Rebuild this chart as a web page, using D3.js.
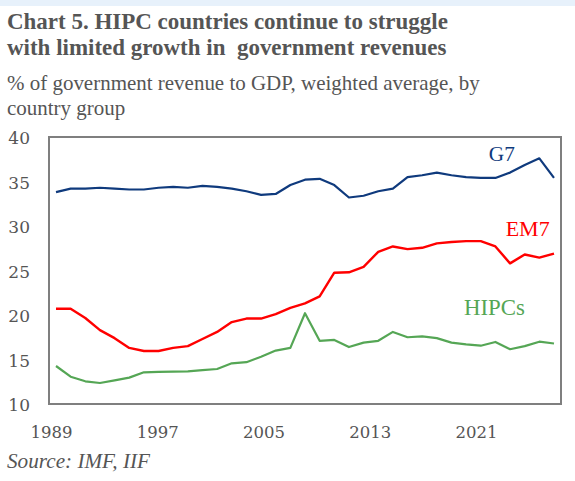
<!DOCTYPE html>
<html>
<head>
<meta charset="utf-8">
<script src="https://cdn.jsdelivr.net/npm/d3@7"></script>
<style>
  html, body { margin: 0; padding: 0; background: #ffffff; }
  svg { display: block; }
  text { font-family: "Liberation Serif", "DejaVu Serif", serif; fill: #555555; }
  .tick text { font-family: "DejaVu Serif", serif; }
</style>
</head>
<body>
<svg id="chart" width="575" height="481"></svg>
<script>
// Government revenue, % of GDP, weighted average by country group
const years = d3.range(1989, 2024);
const g7 = [33.8, 34.2, 34.2, 34.3, 34.2, 34.1, 34.1, 34.3, 34.4, 34.3, 34.5, 34.4, 34.2, 33.9, 33.5, 33.6,
            34.6, 35.2, 35.3, 34.6, 33.2, 33.4, 33.9, 34.2, 35.5, 35.7, 36.0, 35.7, 35.5, 35.4, 35.4,
            36.0, 36.85, 37.6, 35.4];
const em7 = [20.7, 20.7, 19.66, 18.3, 17.4, 16.3, 15.96, 15.96, 16.3, 16.5, 17.3, 18.1, 19.2, 19.6, 19.6, 20.1,
             20.8, 21.3, 22.1, 24.75, 24.8, 25.4, 27.1, 27.7, 27.4, 27.55, 28.05, 28.2, 28.3, 28.3, 27.7,
             25.8, 26.8, 26.45, 26.9];
const hipcs = [14.27, 13.07, 12.55, 12.36, 12.66, 12.96, 13.56, 13.6, 13.63, 13.67, 13.8, 13.93, 14.57, 14.7, 15.3, 16.0,
               16.3, 20.2, 17.1, 17.2, 16.4, 16.9, 17.1, 18.1, 17.5, 17.6, 17.4, 16.9, 16.7, 16.55, 16.97,
               16.15, 16.5, 17.0, 16.8];
const seriesNames = ["G7", "EM7", "HIPCs"];
const seriesColors = ["#0f3a7d", "#ff0000", "#55a655"];
// label anchor for each series, in data units [year, value]
const seriesLabelAt = [[2018.55, 37.3], [2019.7, 28.9], [2016.85, 20.0]];
const yTicks = [10, 15, 20, 25, 30, 35, 40];
const xTickLabels = ["1989", "1997", "2005", "2013", "2021"];

const titleLines = ["Chart 5. HIPC countries continue to struggle",
                    "with limited growth in  government revenues"];
const subtitleLines = ["% of government revenue to GDP, weighted average, by",
                       "country group"];
const sourceText = "Source: IMF, IIF";

const svg = d3.select("#chart");

// thin banner across the top
svg.append("rect").attr("x", 0).attr("y", 0).attr("width", 575).attr("height", 6).attr("fill", "#e7f1fb");

// font size that makes a text element span a target width
function fittedSize(sel, targetWidth) {
  const fs = parseFloat(sel.attr("font-size"));
  const w = sel.node().getComputedTextLength();
  return w > 0 ? fs * targetWidth / w : fs;
}

// title: two bold lines sharing one size
const titleEls = titleLines.map((t, i) => svg.append("text")
  .attr("x", 7).attr("y", 29 + i * 26)
  .attr("font-size", 20).attr("font-weight", "bold")
  .style("white-space", "pre")
  .text(t));
const titleSize = fittedSize(titleEls[0], 441);
titleEls.forEach(el => el.attr("font-size", titleSize.toFixed(2)));

// subtitle: two regular lines sharing one size
const subEls = subtitleLines.map((t, i) => svg.append("text")
  .attr("x", 7).attr("y", 90 + i * 25)
  .attr("font-size", 18)
  .text(t));
const subSize = fittedSize(subEls[0], 473);
subEls.forEach(el => el.attr("font-size", subSize.toFixed(2)));

// plot frame
const frame = { left: 49, right: 561, top: 137, bottom: 404 };
const x = d3.scaleLinear().domain([1989, 2023]).range([56, 554]);
const y = d3.scaleLinear().domain([10, 40]).range([frame.bottom, frame.top]);

svg.append("rect")
  .attr("x", frame.left).attr("y", frame.top)
  .attr("width", frame.right - frame.left).attr("height", frame.bottom - frame.top)
  .attr("fill", "none").attr("stroke", "#7f7f7f").attr("stroke-width", 2);

// y axis labels
const yAxis = d3.axisLeft(y).tickValues(yTicks).tickSize(0).tickPadding(0).tickFormat(d3.format("d"));
const yg = svg.append("g").attr("transform", "translate(30,0)").call(yAxis);
yg.select(".domain").remove();
yg.selectAll("text").style("font-size", "17px").style("fill", "#555555").attr("dy", "0.4em");

// x axis labels, spread evenly beneath the frame
const xl = d3.scalePoint().domain(xTickLabels).range([51, 476]);
const xAxis = d3.axisBottom(xl).tickSize(0).tickPadding(0);
const xg = svg.append("g").attr("transform", "translate(0,424)").call(xAxis);
xg.select(".domain").remove();
xg.selectAll("text").style("font-size", "16.5px").style("fill", "#555555").attr("dy", "0.85em");

// series lines
const data = [g7, em7, hipcs];
const line = d3.line().x((d, i) => x(years[i])).y(d => y(d));
data.forEach((vals, k) => {
  svg.append("path")
    .datum(vals)
    .attr("d", line)
    .attr("fill", "none")
    .attr("stroke", seriesColors[k])
    .attr("stroke-width", k === 1 ? 2.4 : 2.2)
    .attr("stroke-linejoin", "round");
});

// series labels
const labelWidths = [26, 44, 61];
seriesNames.forEach((n, k) => {
  const el = svg.append("text")
    .attr("x", x(seriesLabelAt[k][0])).attr("y", y(seriesLabelAt[k][1]))
    .attr("font-size", 19)
    .style("fill", seriesColors[k])
    .text(n);
  el.attr("font-size", fittedSize(el, labelWidths[k]).toFixed(2));
});

// source note
const src = svg.append("text")
  .attr("x", 7).attr("y", 468)
  .attr("font-size", 17).attr("font-style", "italic")
  .text(sourceText);
src.attr("font-size", fittedSize(src, 143).toFixed(2));
</script>
</body>
</html>
